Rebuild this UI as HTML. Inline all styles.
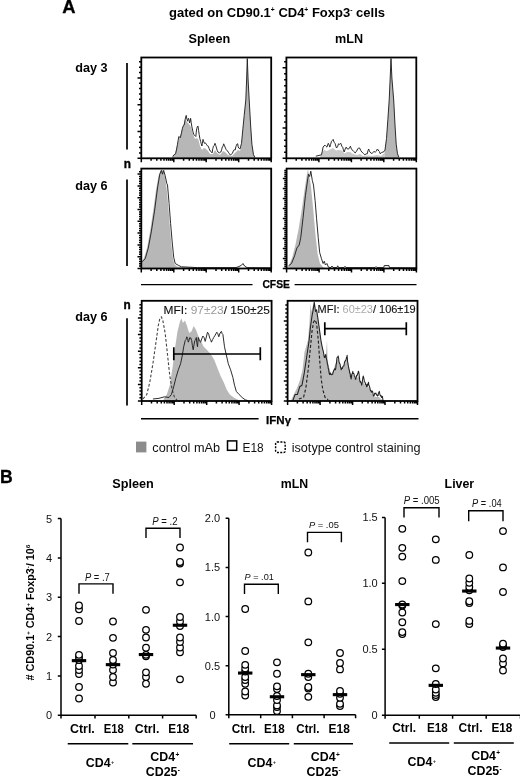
<!DOCTYPE html>
<html><head><meta charset="utf-8"><title>Figure</title>
<style>html,body{margin:0;padding:0;background:#fff}svg{display:block}</style></head>
<body>
<svg width="520" height="777" viewBox="0 0 520 777" font-family='"Liberation Sans", Arial, Helvetica, sans-serif'>
<rect width="520" height="777" fill="#fff"/>
<text x="62.2" y="12.6" font-size="17.6" font-weight="bold" stroke="#000" stroke-width="0.3" textLength="13.3" lengthAdjust="spacingAndGlyphs">A</text>
<text x="169" y="16.7" font-size="12.5" font-weight="bold" textLength="216" lengthAdjust="spacingAndGlyphs">gated on CD90.1<tspan font-size="6.5" dy="-4.6">+</tspan><tspan dy="4.6"> CD4</tspan><tspan font-size="6.5" dy="-4.6">+</tspan><tspan dy="4.6"> Foxp3</tspan><tspan font-size="6.5" dy="-4.6">-</tspan><tspan dy="4.6"> cells</tspan></text>
<text x="188.6" y="43.3" font-size="12.4" font-weight="bold" textLength="41.6" lengthAdjust="spacingAndGlyphs">Spleen</text>
<text x="335" y="43.3" font-size="12.4" font-weight="bold" textLength="28" lengthAdjust="spacingAndGlyphs">mLN</text>
<text x="75.2" y="72.2" font-size="12.4" font-weight="bold" textLength="32.3" lengthAdjust="spacingAndGlyphs">day 3</text>
<text x="75.2" y="190" font-size="12.4" font-weight="bold" textLength="32.3" lengthAdjust="spacingAndGlyphs">day 6</text>
<text x="75.2" y="320.6" font-size="12.4" font-weight="bold" textLength="32.3" lengthAdjust="spacingAndGlyphs">day 6</text>
<text x="123.8" y="167.5" font-size="12" font-weight="bold" stroke="#000" stroke-width="0.35" textLength="7.2" lengthAdjust="spacingAndGlyphs">n</text>
<text x="123.6" y="308.8" font-size="12" font-weight="bold" stroke="#000" stroke-width="0.35" textLength="7.2" lengthAdjust="spacingAndGlyphs">n</text>
<path d="M127 63v86.6M127 179.6v86.4M127 318.2V405.6" stroke="#000" stroke-width="1.7"/>
<polygon points="172.0,158.0 172.0,157.5 175.0,154.0 177.0,146.0 179.0,139.0 181.0,133.0 183.0,126.0 185.2,119.2 187.0,122.0 189.0,124.0 191.0,127.0 193.0,134.0 195.0,139.0 197.0,138.0 198.5,140.0 200.0,146.0 202.0,150.0 204.0,148.0 206.0,149.0 208.0,151.0 210.0,154.0 213.0,154.0 215.0,150.0 217.0,153.0 220.0,155.0 223.0,151.0 225.0,152.0 228.0,155.0 232.0,156.0 235.0,153.0 238.0,150.0 240.0,151.0 241.5,144.0 242.9,129.0 244.2,116.0 245.8,100.0 246.6,80.0 247.3,59.0 248.1,80.0 249.2,100.0 250.6,125.0 251.9,144.2 253.5,154.8 255.0,157.3 255.0,158.0" fill="#b7b7b7"/>
<polyline points="172.7,156.7 174.1,154.7 175.6,153.8 176.6,149.1 177.5,144.2 178.2,140.1 178.8,136.5 179.6,137.2 180.4,137.5 181.4,133.4 182.3,128.8 183.2,126.0 184.2,125.0 185.2,119.2 186.2,115.4 186.9,119.0 187.7,121.2 188.1,119.3 188.5,118.3 189.1,120.1 189.6,123.0 190.1,121.6 190.6,118.3 191.2,122.5 191.9,126.9 192.9,131.4 193.8,134.6 194.8,135.5 195.8,136.5 196.2,132.9 196.7,128.8 197.3,126.7 198.0,126.0 198.6,130.6 199.2,134.6 199.9,138.7 200.6,141.3 201.2,143.7 201.9,146.0 202.4,143.2 203.0,139.4 203.7,141.7 204.4,143.3 205.4,142.9 206.3,144.2 207.3,145.7 208.3,146.2 209.2,148.8 210.2,151.0 211.1,151.6 212.1,152.9 212.8,148.6 213.5,146.2 214.2,145.5 215.0,143.3 215.8,145.6 216.5,148.0 217.2,150.4 217.9,152.0 219.4,152.8 220.8,152.0 221.6,149.9 222.3,147.0 223.0,146.2 223.7,143.8 224.3,145.2 225.0,147.0 226.2,149.6 227.5,151.0 228.4,152.3 229.4,153.8 230.4,155.0 231.3,154.4 232.3,153.5 233.3,151.0 234.2,149.7 235.2,150.0 235.8,146.9 236.5,145.2 237.1,143.9 237.7,143.8 238.2,146.8 238.7,148.0 239.3,148.4 240.0,149.0 241.5,143.3 242.9,128.8 244.2,115.4 245.8,100.0 246.6,80.0 247.3,58.6 248.1,80.0 249.2,100.0 250.6,125.0 251.9,144.2 253.5,154.8 255.0,157.3" fill="none" stroke="#222" stroke-width="0.95" stroke-linejoin="round"/>
<rect x="141.3" y="57.5" width="129.9" height="100.8" fill="none" stroke="#000" stroke-width="1.8"/><path d="M141.3 158.3h-3.8M141.3 152.9h-2.3M141.3 147.6h-2.3M141.3 142.2h-2.3M141.3 136.9h-2.3M141.3 131.5h-3.8M141.3 126.1h-2.3M141.3 120.8h-2.3M141.3 115.4h-2.3M141.3 110.1h-2.3M141.3 104.7h-3.8M141.3 99.3h-2.3M141.3 94.0h-2.3M141.3 88.6h-2.3M141.3 83.3h-2.3M141.3 77.9h-3.8M141.3 72.5h-2.3M141.3 67.2h-2.3M141.3 61.8h-2.3M141.3 158.3v3.9M151.1 158.3v2.4M156.8 158.3v2.4M160.9 158.3v2.4M164.0 158.3v2.4M166.6 158.3v2.4M168.7 158.3v2.4M170.6 158.3v2.4M172.3 158.3v2.4M173.8 158.3v3.9M183.6 158.3v2.4M189.3 158.3v2.4M193.3 158.3v2.4M196.5 158.3v2.4M199.0 158.3v2.4M201.2 158.3v2.4M203.1 158.3v2.4M204.8 158.3v2.4M206.2 158.3v3.9M216.0 158.3v2.4M221.7 158.3v2.4M225.8 158.3v2.4M228.9 158.3v2.4M231.5 158.3v2.4M233.7 158.3v2.4M235.6 158.3v2.4M237.2 158.3v2.4M238.7 158.3v3.9M248.5 158.3v2.4M254.2 158.3v2.4M258.3 158.3v2.4M261.4 158.3v2.4M264.0 158.3v2.4M266.2 158.3v2.4M268.1 158.3v2.4M269.7 158.3v2.4M271.2 158.3v3.9" stroke="#000" stroke-width="1.5" fill="none"/>
<polygon points="320.0,158.0 320.0,157.0 322.0,152.0 324.0,150.0 327.0,151.0 330.0,149.5 333.0,148.0 336.0,150.5 339.0,150.0 342.0,150.5 344.5,153.5 347.0,152.0 350.0,152.0 353.0,154.0 357.0,155.0 360.0,154.0 363.0,156.0 368.0,155.5 372.0,156.0 377.0,155.0 381.0,156.0 384.5,153.0 384.5,158.0" fill="#c8c8c8"/>
<polygon points="384.5,158.0 384.5,153.0 385.5,146.0 386.5,138.5 387.9,119.2 389.2,100.0 390.2,78.0 391.0,58.5 391.9,78.0 393.7,100.0 395.0,125.0 396.2,144.2 397.5,153.8 398.8,157.0 398.8,158.0" fill="#b6b6b6"/>
<polyline points="315.8,156.2 321.5,154.8 322.3,151.2 323.1,147.1 324.1,145.8 325.0,145.2 325.9,146.2 326.9,147.1 327.6,145.0 328.3,143.3 329.1,144.9 329.8,147.1 330.6,144.4 331.5,141.3 332.3,140.5 333.1,139.4 334.1,142.2 335.0,143.3 335.8,146.0 336.5,148.0 337.5,146.8 338.5,143.8 339.6,144.3 340.8,143.3 341.8,146.2 342.7,147.1 343.4,149.9 344.2,152.0 345.2,148.9 346.2,147.1 347.1,148.8 348.1,149.0 349.2,148.5 350.4,146.2 351.4,148.9 352.3,150.0 353.8,151.6 355.2,152.9 356.4,151.4 357.7,149.0 358.6,147.9 359.6,148.0 360.8,150.7 361.9,152.0 363.4,153.5 364.8,154.8 366.1,153.9 367.3,153.8 368.0,150.5 368.7,149.0 369.4,151.2 370.0,152.0 371.2,153.4 372.5,152.9 373.9,151.6 375.4,152.0 376.4,151.1 377.3,149.0 378.1,149.8 378.8,151.0 379.5,151.7 380.2,153.8 381.6,152.5 383.1,152.0 384.1,151.5 385.0,150.0 386.5,138.5 387.9,119.2 389.2,100.0 390.2,78.0 391.0,58.5 391.9,78.0 393.7,100.0 395.0,125.0 396.2,144.2 397.5,153.8 398.8,157.0" fill="none" stroke="#222" stroke-width="0.95" stroke-linejoin="round"/>
<rect x="286.4" y="57.5" width="129.9" height="100.8" fill="none" stroke="#000" stroke-width="1.8"/><path d="M286.4 158.3h-3.8M286.4 152.3h-2.3M286.4 146.2h-2.3M286.4 140.2h-2.3M286.4 134.1h-2.3M286.4 128.1h-3.8M286.4 122.1h-2.3M286.4 116.0h-2.3M286.4 110.0h-2.3M286.4 103.9h-2.3M286.4 97.9h-3.8M286.4 91.9h-2.3M286.4 85.8h-2.3M286.4 79.8h-2.3M286.4 73.7h-2.3M286.4 67.7h-3.8M286.4 61.7h-2.3M286.4 158.3v3.9M296.2 158.3v2.4M301.9 158.3v2.4M306.0 158.3v2.4M309.1 158.3v2.4M311.7 158.3v2.4M313.8 158.3v2.4M315.7 158.3v2.4M317.4 158.3v2.4M318.9 158.3v3.9M328.7 158.3v2.4M334.4 158.3v2.4M338.4 158.3v2.4M341.6 158.3v2.4M344.1 158.3v2.4M346.3 158.3v2.4M348.2 158.3v2.4M349.9 158.3v2.4M351.4 158.3v3.9M361.1 158.3v2.4M366.8 158.3v2.4M370.9 158.3v2.4M374.0 158.3v2.4M376.6 158.3v2.4M378.8 158.3v2.4M380.7 158.3v2.4M382.3 158.3v2.4M383.8 158.3v3.9M393.6 158.3v2.4M399.3 158.3v2.4M403.4 158.3v2.4M406.5 158.3v2.4M409.1 158.3v2.4M411.3 158.3v2.4M413.2 158.3v2.4M414.8 158.3v2.4M416.3 158.3v3.9" stroke="#000" stroke-width="1.5" fill="none"/>
<polygon points="141.8,268.3 141.8,262.5 144.0,258.0 147.0,248.0 150.0,232.0 153.0,212.0 156.0,190.0 158.5,176.0 160.5,170.5 162.3,169.5 164.0,173.0 165.5,180.0 167.0,192.0 168.6,210.0 170.0,228.0 171.5,246.0 173.0,259.0 174.5,264.5 177.0,266.5 181.0,267.3 197.0,268.0 197.0,268.3" fill="#b7b7b7"/>
<polyline points="141.8,261.9 145.2,258.8 148.3,248.0 151.4,231.2 154.5,211.2 157.5,188.0 159.8,174.2 161.4,170.4 162.5,174.2 163.7,170.4 165.2,175.8 166.8,183.5 167.5,185.0 169.1,203.5 170.6,223.5 172.2,242.0 173.7,257.3 175.2,263.5 178.3,265.3 181.4,266.8 197.5,267.6 236.0,267.6 239.0,266.5 241.5,265.2 243.0,263.5 244.5,266.0 247.0,267.6 271.0,267.8" fill="none" stroke="#222" stroke-width="0.95" stroke-linejoin="round"/>
<rect x="141.3" y="168.6" width="129.9" height="99.9" fill="none" stroke="#000" stroke-width="1.8"/><path d="M141.3 268.5h-3.8M141.3 266.1h-2.3M141.3 263.8h-2.3M141.3 261.4h-2.3M141.3 259.1h-2.3M141.3 256.7h-3.8M141.3 254.3h-2.3M141.3 252.0h-2.3M141.3 249.6h-2.3M141.3 247.3h-2.3M141.3 244.9h-3.8M141.3 242.5h-2.3M141.3 240.2h-2.3M141.3 237.8h-2.3M141.3 235.5h-2.3M141.3 233.1h-3.8M141.3 230.7h-2.3M141.3 228.4h-2.3M141.3 226.0h-2.3M141.3 223.7h-2.3M141.3 221.3h-3.8M141.3 218.9h-2.3M141.3 216.6h-2.3M141.3 214.2h-2.3M141.3 211.9h-2.3M141.3 209.5h-3.8M141.3 207.1h-2.3M141.3 204.8h-2.3M141.3 202.4h-2.3M141.3 200.1h-2.3M141.3 197.7h-3.8M141.3 195.3h-2.3M141.3 193.0h-2.3M141.3 190.6h-2.3M141.3 188.3h-2.3M141.3 185.9h-3.8M141.3 183.5h-2.3M141.3 181.2h-2.3M141.3 178.8h-2.3M141.3 176.5h-2.3M141.3 174.1h-3.8M141.3 171.7h-2.3M141.3 268.5v3.9M151.1 268.5v2.4M156.8 268.5v2.4M160.9 268.5v2.4M164.0 268.5v2.4M166.6 268.5v2.4M168.7 268.5v2.4M170.6 268.5v2.4M172.3 268.5v2.4M173.8 268.5v3.9M183.6 268.5v2.4M189.3 268.5v2.4M193.3 268.5v2.4M196.5 268.5v2.4M199.0 268.5v2.4M201.2 268.5v2.4M203.1 268.5v2.4M204.8 268.5v2.4M206.2 268.5v3.9M216.0 268.5v2.4M221.7 268.5v2.4M225.8 268.5v2.4M228.9 268.5v2.4M231.5 268.5v2.4M233.7 268.5v2.4M235.6 268.5v2.4M237.2 268.5v2.4M238.7 268.5v3.9M248.5 268.5v2.4M254.2 268.5v2.4M258.3 268.5v2.4M261.4 268.5v2.4M264.0 268.5v2.4M266.2 268.5v2.4M268.1 268.5v2.4M269.7 268.5v2.4M271.2 268.5v3.9" stroke="#000" stroke-width="1.5" fill="none"/>
<polygon points="288.5,268.3 288.5,266.5 292.3,257.3 295.4,245.0 298.5,229.6 301.5,211.2 304.6,189.6 306.9,174.2 308.0,169.6 309.2,175.8 310.8,185.0 313.1,208.0 315.4,234.2 317.7,254.2 320.0,263.5 323.1,267.3 326.0,268.0 326.0,268.3" fill="#b7b7b7"/>
<polyline points="288.5,265.8 291.5,263.5 294.6,255.8 296.9,248.0 299.2,245.0 300.8,237.3 303.1,217.3 305.4,195.8 306.9,185.0 308.5,174.2 309.7,176.5 310.8,171.2 312.3,180.4 313.5,185.0 315.1,200.4 316.6,218.8 318.2,237.3 319.7,252.7 321.5,258.8 323.1,263.5 324.3,261.2 325.4,265.0 326.9,263.5 328.5,267.3 331.0,267.6 332.0,266.0 333.0,267.6 337.0,267.6 337.7,265.8 338.6,267.6 344.0,267.6 345.0,266.3 346.0,267.6 375.0,267.6 376.0,266.6 377.0,267.6 383.8,267.6 384.2,265.6 389.0,265.6 389.4,267.6 416.0,267.8" fill="none" stroke="#222" stroke-width="0.95" stroke-linejoin="round"/>
<rect x="286.6" y="168.6" width="129.8" height="99.9" fill="none" stroke="#000" stroke-width="1.8"/><path d="M286.6 268.5h-3.8M286.6 266.5h-2.3M286.6 264.5h-2.3M286.6 262.5h-2.3M286.6 260.5h-2.3M286.6 258.5h-3.8M286.6 256.5h-2.3M286.6 254.5h-2.3M286.6 252.5h-2.3M286.6 250.5h-2.3M286.6 248.5h-3.8M286.6 246.5h-2.3M286.6 244.5h-2.3M286.6 242.5h-2.3M286.6 240.5h-2.3M286.6 238.5h-3.8M286.6 236.5h-2.3M286.6 234.5h-2.3M286.6 232.5h-2.3M286.6 230.5h-2.3M286.6 228.5h-3.8M286.6 226.5h-2.3M286.6 224.5h-2.3M286.6 222.5h-2.3M286.6 220.5h-2.3M286.6 218.5h-3.8M286.6 216.5h-2.3M286.6 214.5h-2.3M286.6 212.5h-2.3M286.6 210.5h-2.3M286.6 208.5h-3.8M286.6 206.5h-2.3M286.6 204.5h-2.3M286.6 202.5h-2.3M286.6 200.5h-2.3M286.6 198.5h-3.8M286.6 196.5h-2.3M286.6 194.5h-2.3M286.6 192.5h-2.3M286.6 190.5h-2.3M286.6 188.5h-3.8M286.6 186.5h-2.3M286.6 184.5h-2.3M286.6 182.5h-2.3M286.6 180.5h-2.3M286.6 178.5h-3.8M286.6 176.5h-2.3M286.6 174.5h-2.3M286.6 172.5h-2.3M286.6 170.5h-2.3M286.6 268.5v3.9M296.4 268.5v2.4M302.1 268.5v2.4M306.1 268.5v2.4M309.3 268.5v2.4M311.9 268.5v2.4M314.0 268.5v2.4M315.9 268.5v2.4M317.6 268.5v2.4M319.1 268.5v3.9M328.8 268.5v2.4M334.5 268.5v2.4M338.6 268.5v2.4M341.7 268.5v2.4M344.3 268.5v2.4M346.5 268.5v2.4M348.4 268.5v2.4M350.0 268.5v2.4M351.5 268.5v3.9M361.3 268.5v2.4M367.0 268.5v2.4M371.0 268.5v2.4M374.2 268.5v2.4M376.8 268.5v2.4M378.9 268.5v2.4M380.8 268.5v2.4M382.5 268.5v2.4M383.9 268.5v3.9M393.7 268.5v2.4M399.4 268.5v2.4M403.5 268.5v2.4M406.6 268.5v2.4M409.2 268.5v2.4M411.4 268.5v2.4M413.3 268.5v2.4M414.9 268.5v2.4M416.4 268.5v3.9" stroke="#000" stroke-width="1.5" fill="none"/>
<path d="M141 284.6H252.5M294.6 284.6H416.5" stroke="#000" stroke-width="1.4"/>
<text x="276.2" y="288.3" font-size="11.3" font-weight="bold" stroke="#000" stroke-width="0.25" text-anchor="middle" textLength="27.6" lengthAdjust="spacingAndGlyphs">CFSE</text>
<polygon points="163.7,401.0 163.7,399.0 166.8,394.5 169.8,385.2 172.9,365.2 175.2,346.8 177.5,331.4 179.8,322.2 181.4,318.3 182.9,323.0 184.9,320.6 186.8,325.2 189.1,333.0 191.4,331.4 193.7,326.0 196.0,329.8 198.3,336.0 200.6,340.6 203.7,346.8 206.8,349.8 209.8,352.9 212.9,357.5 214.5,360.6 217.5,368.3 220.6,376.0 223.7,382.2 226.8,389.8 229.8,394.5 233.7,397.5 237.5,399.4 240.0,400.5 240.0,401.0" fill="#b8b8b8"/>
<polyline points="142.9,399.0 146.8,394.5 149.8,382.2 152.9,363.7 156.0,342.2 158.3,325.5 159.8,318.8 161.4,316.8 162.9,320.8 165.2,333.5 167.5,354.5 169.8,376.0 172.2,389.8 174.5,397.5 177.0,400.0" fill="none" stroke="#444" stroke-width="1.1" stroke-linejoin="round" stroke-dasharray="2.8 1.9"/>
<polyline points="152.9,399.0 159.0,398.3 164.5,396.8 169.0,397.5 171.4,394.5 173.7,386.8 176.0,377.5 178.3,369.8 180.6,363.7 182.2,356.0 183.7,346.8 185.2,340.6 186.0,339.6 186.8,336.8 187.6,338.4 188.3,342.2 189.1,340.1 189.8,337.5 190.8,338.0 191.7,340.6 192.4,345.7 193.2,349.8 194.0,344.8 194.8,340.6 195.6,340.0 196.3,337.5 196.9,343.3 197.5,346.8 197.9,342.2 198.3,337.5 199.4,341.0 200.6,342.2 201.8,338.6 202.9,336.0 204.1,337.7 205.2,341.4 206.3,337.0 207.5,332.2 208.7,334.1 209.8,338.3 210.6,339.5 211.4,342.2 212.6,339.6 213.7,337.5 215.2,335.1 216.8,332.2 217.8,333.7 218.8,336.8 220.1,333.0 221.4,331.4 222.2,333.8 222.9,334.5 224.5,346.8 226.0,353.7 228.3,363.7 230.6,369.8 232.9,377.5 234.5,385.2 236.3,391.4 239.1,394.5 242.2,397.5 245.2,399.8 248.0,400.6" fill="none" stroke="#222" stroke-width="0.95" stroke-linejoin="round"/>
<rect x="141.7" y="300.8" width="129.9" height="100.2" fill="none" stroke="#000" stroke-width="1.8"/><path d="M141.7 401.0h-3.8M141.7 397.7h-2.3M141.7 394.4h-2.3M141.7 391.0h-2.3M141.7 387.7h-2.3M141.7 384.4h-3.8M141.7 381.1h-2.3M141.7 377.8h-2.3M141.7 374.4h-2.3M141.7 371.1h-2.3M141.7 367.8h-3.8M141.7 364.5h-2.3M141.7 361.2h-2.3M141.7 357.8h-2.3M141.7 354.5h-2.3M141.7 351.2h-3.8M141.7 347.9h-2.3M141.7 344.6h-2.3M141.7 341.2h-2.3M141.7 337.9h-2.3M141.7 334.6h-3.8M141.7 331.3h-2.3M141.7 328.0h-2.3M141.7 324.6h-2.3M141.7 321.3h-2.3M141.7 318.0h-3.8M141.7 314.7h-2.3M141.7 311.4h-2.3M141.7 308.0h-2.3M141.7 304.7h-2.3M141.7 401.0v3.9M151.5 401.0v2.4M157.2 401.0v2.4M161.3 401.0v2.4M164.4 401.0v2.4M167.0 401.0v2.4M169.1 401.0v2.4M171.0 401.0v2.4M172.7 401.0v2.4M174.2 401.0v3.9M184.0 401.0v2.4M189.7 401.0v2.4M193.7 401.0v2.4M196.9 401.0v2.4M199.4 401.0v2.4M201.6 401.0v2.4M203.5 401.0v2.4M205.2 401.0v2.4M206.7 401.0v3.9M216.4 401.0v2.4M222.1 401.0v2.4M226.2 401.0v2.4M229.3 401.0v2.4M231.9 401.0v2.4M234.1 401.0v2.4M236.0 401.0v2.4M237.6 401.0v2.4M239.1 401.0v3.9M248.9 401.0v2.4M254.6 401.0v2.4M258.7 401.0v2.4M261.8 401.0v2.4M264.4 401.0v2.4M266.6 401.0v2.4M268.5 401.0v2.4M270.1 401.0v2.4M271.6 401.0v3.9" stroke="#000" stroke-width="1.5" fill="none"/>
<path d="M173.8 354H260.3M173.8 347.3v13M260.3 347.3v13" stroke="#000" stroke-width="1.7" fill="none"/>
<text x="163.6" y="314" font-size="10.2" fill="#111" stroke="#111" stroke-width="0.12" textLength="106.3" lengthAdjust="spacingAndGlyphs">MFI: <tspan fill="#999" stroke="none">97±23</tspan>/ 150±25</text>
<polygon points="291.0,401.0 291.0,400.6 294.0,394.0 297.0,388.0 300.0,380.0 302.5,370.0 304.5,352.0 306.0,347.0 308.0,340.0 309.5,322.0 310.5,302.5 311.2,312.0 312.5,307.0 314.0,302.5 315.5,310.0 317.0,312.0 318.5,322.0 320.0,333.0 321.5,343.0 323.0,351.0 324.5,356.0 326.0,354.0 327.0,340.0 327.6,360.0 329.0,367.0 331.0,374.0 333.0,371.0 335.0,365.0 337.0,359.0 338.5,360.0 340.0,365.0 342.0,368.0 344.0,365.0 346.0,361.0 347.5,360.0 349.0,367.0 351.0,375.0 353.0,374.0 355.0,379.0 357.0,378.0 359.0,376.0 361.0,384.0 363.0,381.0 365.0,385.0 367.0,388.0 369.0,387.0 371.0,392.0 373.0,396.0 376.0,397.0 379.0,397.0 381.0,399.0 383.5,400.6 383.5,401.0" fill="#b9b9b9"/>
<polyline points="292.8,400.6 295.1,394.5 297.4,394.5 299.7,386.8 302.0,385.2 304.3,372.9 306.6,357.5 308.9,342.2 310.5,326.8 312.0,316.0 313.2,309.8 314.3,302.2 315.5,311.4 316.6,309.8 318.2,320.6 319.7,331.4 321.2,342.2 322.8,349.8 323.2,350.9 323.6,353.1 323.9,354.9 324.3,357.5 324.7,356.8 325.1,357.3 325.4,355.5 325.8,354.5 326.4,358.7 326.9,360.6 327.2,362.7 327.5,364.1 327.9,365.6 328.2,368.3 328.6,369.4 328.9,371.3 329.3,373.8 329.7,374.5 330.3,373.0 330.9,374.6 331.4,374.7 332.0,374.5 332.6,374.3 333.1,372.6 333.7,370.6 334.3,369.8 334.7,368.7 335.1,369.3 335.4,369.8 335.8,368.3 336.1,364.8 336.5,363.1 336.8,359.3 337.1,357.5 337.6,357.1 338.2,356.0 338.6,358.3 338.9,361.1 339.3,363.0 339.7,363.7 340.1,364.0 340.4,366.8 340.8,367.7 341.2,369.8 341.6,368.4 342.0,368.1 342.4,368.5 342.8,366.8 343.2,366.1 343.6,365.9 343.9,365.9 344.3,363.7 344.7,361.5 345.1,361.4 345.4,360.5 345.8,360.6 346.1,359.5 346.5,357.3 346.8,357.5 347.1,355.2 347.6,361.5 348.2,365.2 348.6,367.0 348.9,369.1 349.3,370.1 349.7,372.9 350.1,373.3 350.4,376.1 350.8,377.6 351.2,379.0 351.6,375.4 352.0,373.8 352.4,373.6 352.8,371.4 353.2,373.5 353.6,373.5 353.9,373.7 354.3,376.0 354.7,376.2 355.1,377.7 355.4,379.3 355.8,379.0 356.2,377.7 356.6,375.4 357.0,375.9 357.4,374.5 357.7,373.4 358.0,373.3 358.3,371.2 358.6,371.4 359.0,373.6 359.4,377.2 359.8,380.6 360.2,382.2 360.6,381.6 360.9,382.5 361.3,383.3 361.7,385.2 362.1,382.8 362.4,381.0 362.8,378.2 363.2,376.0 363.6,377.2 364.0,379.0 364.4,381.9 364.8,382.2 365.2,382.5 365.7,385.0 366.2,384.3 366.6,386.8 367.1,386.9 367.6,384.1 368.0,384.4 368.5,382.2 368.9,385.6 369.2,385.8 369.6,386.9 370.0,388.3 370.5,390.8 371.0,390.5 371.5,392.3 372.0,391.4 372.4,391.0 372.8,392.4 373.1,395.0 373.5,396.0 374.1,395.7 374.6,393.3 375.2,393.7 375.8,393.0 376.2,394.1 376.6,395.0 377.0,394.8 377.4,396.0 377.8,395.2 378.1,395.4 378.5,392.9 378.9,392.2 379.3,391.4 379.7,393.4 380.1,395.0 380.5,396.0 380.9,395.5 381.2,396.3 381.6,397.5 382.0,396.8 382.4,396.4 382.8,399.0 383.1,401.1 383.5,400.6" fill="none" stroke="#222" stroke-width="1.05" stroke-linejoin="round"/>
<polyline points="298.9,399.0 303.5,397.5 305.8,388.3 308.2,369.8 310.5,346.8 312.0,331.4 313.5,322.2 315.1,319.8 316.6,323.7 318.2,339.0 319.7,360.6 321.2,379.0 322.8,389.8 325.1,397.5 328.2,399.8" fill="none" stroke="#222" stroke-width="1.15" stroke-linejoin="round" stroke-dasharray="3 2"/>
<rect x="287.6" y="300.8" width="129.9" height="100.2" fill="none" stroke="#000" stroke-width="1.8"/><path d="M287.6 401.0h-3.8M287.6 397.0h-2.3M287.6 393.0h-2.3M287.6 389.0h-2.3M287.6 385.0h-2.3M287.6 381.0h-3.8M287.6 377.0h-2.3M287.6 373.0h-2.3M287.6 369.0h-2.3M287.6 365.0h-2.3M287.6 361.0h-3.8M287.6 357.0h-2.3M287.6 353.0h-2.3M287.6 349.0h-2.3M287.6 345.0h-2.3M287.6 341.0h-3.8M287.6 337.0h-2.3M287.6 333.0h-2.3M287.6 329.0h-2.3M287.6 325.0h-2.3M287.6 321.0h-3.8M287.6 317.0h-2.3M287.6 313.0h-2.3M287.6 309.0h-2.3M287.6 305.0h-2.3M287.6 401.0v3.9M297.4 401.0v2.4M303.1 401.0v2.4M307.2 401.0v2.4M310.3 401.0v2.4M312.9 401.0v2.4M315.0 401.0v2.4M316.9 401.0v2.4M318.6 401.0v2.4M320.1 401.0v3.9M329.9 401.0v2.4M335.6 401.0v2.4M339.6 401.0v2.4M342.8 401.0v2.4M345.3 401.0v2.4M347.5 401.0v2.4M349.4 401.0v2.4M351.1 401.0v2.4M352.6 401.0v3.9M362.3 401.0v2.4M368.0 401.0v2.4M372.1 401.0v2.4M375.2 401.0v2.4M377.8 401.0v2.4M380.0 401.0v2.4M381.9 401.0v2.4M383.5 401.0v2.4M385.0 401.0v3.9M394.8 401.0v2.4M400.5 401.0v2.4M404.6 401.0v2.4M407.7 401.0v2.4M410.3 401.0v2.4M412.5 401.0v2.4M414.4 401.0v2.4M416.0 401.0v2.4M417.5 401.0v3.9" stroke="#000" stroke-width="1.5" fill="none"/>
<path d="M324.8 328.6H406.3M324.8 322.2v13M406.3 322.2v13" stroke="#000" stroke-width="1.7" fill="none"/>
<text x="317.6" y="313.2" font-size="10.2" fill="#111" stroke="#111" stroke-width="0.12" textLength="98" lengthAdjust="spacingAndGlyphs">MFI: <tspan fill="#aaa" stroke="none">60±23</tspan>/ 106±19</text>
<path d="M141 418.8H258.6M298.4 418.8H418.5" stroke="#000" stroke-width="1.4"/>
<text x="278.6" y="423.5" font-size="11.3" font-weight="bold" stroke="#000" stroke-width="0.25" text-anchor="middle" textLength="25" lengthAdjust="spacingAndGlyphs">IFNγ</text>
<rect x="136" y="441.6" width="10.4" height="10.8" fill="#8c8c8c"/>
<text x="152.3" y="451.7" font-size="12" fill="#111" textLength="67.7" lengthAdjust="spacingAndGlyphs">control mAb</text>
<rect x="227.5" y="440.9" width="9.2" height="9.4" fill="#fff" stroke="#000" stroke-width="1.5"/>
<text x="242.5" y="451.7" font-size="12" fill="#111" textLength="21.2" lengthAdjust="spacingAndGlyphs">E18</text>
<rect x="275.6" y="442" width="9.6" height="10.5" rx="1.5" fill="#fff" stroke="#000" stroke-width="1.4" stroke-dasharray="2 1.3"/>
<text x="291.7" y="451.7" font-size="12" fill="#111" textLength="128.8" lengthAdjust="spacingAndGlyphs">isotype control staining</text>
<text x="0" y="482.9" font-size="17.6" font-weight="bold" stroke="#000" stroke-width="0.3">B</text>
<text x="112.3" y="487.8" font-size="12.7" font-weight="bold" textLength="41.5" lengthAdjust="spacingAndGlyphs">Spleen</text>
<path d="M61.0 518.6V715.2H196.2M61.0 518.6h-3.2M61.0 557.9h-3.2M61.0 597.2h-3.2M61.0 636.6h-3.2M61.0 675.9h-3.2M61.0 715.2h-3.2M61.0 715.2v3.4M95.0 715.2v3.4M128.8 715.2v3.4M162.6 715.2v3.4M196.2 715.2v3.4" stroke="#000" stroke-width="1.5" fill="none"/>
<text x="52.0" y="522.5" font-size="11" fill="#111" text-anchor="end">5</text>
<text x="52.0" y="561.8" font-size="11" fill="#111" text-anchor="end">4</text>
<text x="52.0" y="601.1" font-size="11" fill="#111" text-anchor="end">3</text>
<text x="52.0" y="640.5" font-size="11" fill="#111" text-anchor="end">2</text>
<text x="52.0" y="679.8" font-size="11" fill="#111" text-anchor="end">1</text>
<text x="52.0" y="719.1" font-size="11" fill="#111" text-anchor="end">0</text>
<circle cx="79.0" cy="698.5" r="3.3" fill="#fff" stroke="#000" stroke-width="1.25"/>
<circle cx="79.0" cy="687.0" r="3.3" fill="#fff" stroke="#000" stroke-width="1.25"/>
<circle cx="79.0" cy="674.0" r="3.3" fill="#fff" stroke="#000" stroke-width="1.25"/>
<circle cx="79.0" cy="670.0" r="3.3" fill="#fff" stroke="#000" stroke-width="1.25"/>
<circle cx="79.0" cy="666.0" r="3.3" fill="#fff" stroke="#000" stroke-width="1.25"/>
<circle cx="79.0" cy="660.0" r="3.3" fill="#fff" stroke="#000" stroke-width="1.25"/>
<circle cx="79.0" cy="657.0" r="3.3" fill="#fff" stroke="#000" stroke-width="1.25"/>
<circle cx="79.0" cy="654.8" r="3.3" fill="#fff" stroke="#000" stroke-width="1.25"/>
<circle cx="79.0" cy="621.0" r="3.3" fill="#fff" stroke="#000" stroke-width="1.25"/>
<circle cx="79.0" cy="609.2" r="3.3" fill="#fff" stroke="#000" stroke-width="1.25"/>
<circle cx="79.0" cy="605.5" r="3.3" fill="#fff" stroke="#000" stroke-width="1.25"/>
<circle cx="113.0" cy="682.5" r="3.3" fill="#fff" stroke="#000" stroke-width="1.25"/>
<circle cx="113.0" cy="677.0" r="3.3" fill="#fff" stroke="#000" stroke-width="1.25"/>
<circle cx="113.0" cy="670.0" r="3.3" fill="#fff" stroke="#000" stroke-width="1.25"/>
<circle cx="113.0" cy="664.6" r="3.3" fill="#fff" stroke="#000" stroke-width="1.25"/>
<circle cx="113.0" cy="660.0" r="3.3" fill="#fff" stroke="#000" stroke-width="1.25"/>
<circle cx="113.0" cy="653.0" r="3.3" fill="#fff" stroke="#000" stroke-width="1.25"/>
<circle cx="113.0" cy="637.8" r="3.3" fill="#fff" stroke="#000" stroke-width="1.25"/>
<circle cx="113.0" cy="621.5" r="3.3" fill="#fff" stroke="#000" stroke-width="1.25"/>
<circle cx="146.0" cy="683.7" r="3.3" fill="#fff" stroke="#000" stroke-width="1.25"/>
<circle cx="146.0" cy="677.0" r="3.3" fill="#fff" stroke="#000" stroke-width="1.25"/>
<circle cx="146.0" cy="672.3" r="3.3" fill="#fff" stroke="#000" stroke-width="1.25"/>
<circle cx="146.0" cy="656.3" r="3.3" fill="#fff" stroke="#000" stroke-width="1.25"/>
<circle cx="146.0" cy="654.8" r="3.3" fill="#fff" stroke="#000" stroke-width="1.25"/>
<circle cx="146.0" cy="647.7" r="3.3" fill="#fff" stroke="#000" stroke-width="1.25"/>
<circle cx="146.0" cy="637.5" r="3.3" fill="#fff" stroke="#000" stroke-width="1.25"/>
<circle cx="146.0" cy="629.8" r="3.3" fill="#fff" stroke="#000" stroke-width="1.25"/>
<circle cx="146.0" cy="609.8" r="3.3" fill="#fff" stroke="#000" stroke-width="1.25"/>
<circle cx="180.0" cy="679.3" r="3.3" fill="#fff" stroke="#000" stroke-width="1.25"/>
<circle cx="180.0" cy="652.2" r="3.3" fill="#fff" stroke="#000" stroke-width="1.25"/>
<circle cx="180.0" cy="647.5" r="3.3" fill="#fff" stroke="#000" stroke-width="1.25"/>
<circle cx="180.0" cy="642.0" r="3.3" fill="#fff" stroke="#000" stroke-width="1.25"/>
<circle cx="180.0" cy="637.5" r="3.3" fill="#fff" stroke="#000" stroke-width="1.25"/>
<circle cx="180.0" cy="626.0" r="3.3" fill="#fff" stroke="#000" stroke-width="1.25"/>
<circle cx="180.0" cy="621.5" r="3.3" fill="#fff" stroke="#000" stroke-width="1.25"/>
<circle cx="180.0" cy="617.0" r="3.3" fill="#fff" stroke="#000" stroke-width="1.25"/>
<circle cx="180.0" cy="582.3" r="3.3" fill="#fff" stroke="#000" stroke-width="1.25"/>
<circle cx="180.0" cy="563.5" r="3.3" fill="#fff" stroke="#000" stroke-width="1.25"/>
<circle cx="180.0" cy="562.0" r="3.3" fill="#fff" stroke="#000" stroke-width="1.25"/>
<circle cx="180.0" cy="547.5" r="3.3" fill="#fff" stroke="#000" stroke-width="1.25"/>
<rect x="71.8" y="659.1" width="14.4" height="3.1" fill="#000"/>
<rect x="105.8" y="663.1" width="14.4" height="3.1" fill="#000"/>
<rect x="138.8" y="653.0" width="14.4" height="3.1" fill="#000"/>
<rect x="172.8" y="623.7" width="14.4" height="3.1" fill="#000"/>
<path d="M79.0 593.8V583.9H113.0V593.8" stroke="#000" stroke-width="1.4" fill="none"/>
<text x="85.0" y="580.5" font-size="10.2" fill="#111" textLength="24.8" lengthAdjust="spacingAndGlyphs"><tspan font-style="italic">P</tspan> = .7</text>
<path d="M146.0 538.0V528.2H180.0V538.0" stroke="#000" stroke-width="1.4" fill="none"/>
<text x="152.3" y="524.8" font-size="10.2" fill="#111" textLength="25.3" lengthAdjust="spacingAndGlyphs"><tspan font-style="italic">P</tspan> = .2</text>
<text x="70.0" y="733.2" font-size="12.4" font-weight="bold" textLength="24.8" lengthAdjust="spacingAndGlyphs">Ctrl.</text>
<text x="103.7" y="733.2" font-size="12.4" font-weight="bold" textLength="20.0" lengthAdjust="spacingAndGlyphs">E18</text>
<text x="134.8" y="733.2" font-size="12.4" font-weight="bold" textLength="24.6" lengthAdjust="spacingAndGlyphs">Ctrl.</text>
<text x="168.3" y="733.2" font-size="12.4" font-weight="bold" textLength="20.9" lengthAdjust="spacingAndGlyphs">E18</text>
<path d="M67.7 743.8H128.3M132.3 743.8H193.0" stroke="#000" stroke-width="1.4"/>
<text x="85.8" y="766.6" font-size="12.4" font-weight="bold">CD4<tspan font-size="5.5" dy="-2.6" dx="0.5" fill="#333">+</tspan></text>
<text x="150.3" y="761.2" font-size="12.4" font-weight="bold">CD4<tspan font-size="6.5" dy="-4.6" dx="0.3">+</tspan></text>
<text x="145.8" y="776.4" font-size="12.4" font-weight="bold">CD25<tspan font-size="6.5" dy="-4.6" dx="0.3">-</tspan></text>
<text transform="translate(34.2,680.5) rotate(-90)" font-size="10" font-weight="bold" textLength="136" lengthAdjust="spacingAndGlyphs"># CD90.1<tspan font-size="5.6" dy="-3.8">+</tspan><tspan dy="3.8"> CD4</tspan><tspan font-size="5.6" dy="-3.8">+</tspan><tspan dy="3.8"> Foxp3</tspan><tspan font-size="5.6" dy="-3.8">-</tspan><tspan dy="3.8">/ 10</tspan><tspan font-size="6" dy="-3.8">6</tspan></text>
<text x="280.8" y="488.0" font-size="12.7" font-weight="bold" textLength="27.4" lengthAdjust="spacingAndGlyphs">mLN</text>
<path d="M228.8 518.3V714.8H355.6M228.8 518.3h-3.2M228.8 567.4h-3.2M228.8 616.6h-3.2M228.8 665.7h-3.2M228.8 714.8h-3.2M228.8 714.8v3.4M260.7 714.8v3.4M292.4 714.8v3.4M324.1 714.8v3.4M355.6 714.8v3.4" stroke="#000" stroke-width="1.5" fill="none"/>
<text x="220.1" y="522.2" font-size="11" fill="#111" text-anchor="end">2.0</text>
<text x="220.1" y="571.3" font-size="11" fill="#111" text-anchor="end">1.5</text>
<text x="220.1" y="620.5" font-size="11" fill="#111" text-anchor="end">1.0</text>
<text x="220.1" y="669.6" font-size="11" fill="#111" text-anchor="end">0.5</text>
<text x="215.7" y="718.7" font-size="11" fill="#111" text-anchor="end">0</text>
<circle cx="245.2" cy="695.5" r="3.3" fill="#fff" stroke="#000" stroke-width="1.25"/>
<circle cx="245.2" cy="691.5" r="3.3" fill="#fff" stroke="#000" stroke-width="1.25"/>
<circle cx="245.2" cy="683.8" r="3.3" fill="#fff" stroke="#000" stroke-width="1.25"/>
<circle cx="245.2" cy="680.0" r="3.3" fill="#fff" stroke="#000" stroke-width="1.25"/>
<circle cx="245.2" cy="677.0" r="3.3" fill="#fff" stroke="#000" stroke-width="1.25"/>
<circle cx="245.2" cy="671.5" r="3.3" fill="#fff" stroke="#000" stroke-width="1.25"/>
<circle cx="245.2" cy="668.5" r="3.3" fill="#fff" stroke="#000" stroke-width="1.25"/>
<circle cx="245.2" cy="664.8" r="3.3" fill="#fff" stroke="#000" stroke-width="1.25"/>
<circle cx="245.2" cy="651.0" r="3.3" fill="#fff" stroke="#000" stroke-width="1.25"/>
<circle cx="245.2" cy="609.0" r="3.3" fill="#fff" stroke="#000" stroke-width="1.25"/>
<circle cx="277.0" cy="711.0" r="3.3" fill="#fff" stroke="#000" stroke-width="1.25"/>
<circle cx="277.0" cy="707.0" r="3.3" fill="#fff" stroke="#000" stroke-width="1.25"/>
<circle cx="277.0" cy="705.4" r="3.3" fill="#fff" stroke="#000" stroke-width="1.25"/>
<circle cx="277.0" cy="700.0" r="3.3" fill="#fff" stroke="#000" stroke-width="1.25"/>
<circle cx="277.0" cy="696.0" r="3.3" fill="#fff" stroke="#000" stroke-width="1.25"/>
<circle cx="277.0" cy="689.0" r="3.3" fill="#fff" stroke="#000" stroke-width="1.25"/>
<circle cx="277.0" cy="686.3" r="3.3" fill="#fff" stroke="#000" stroke-width="1.25"/>
<circle cx="277.0" cy="673.7" r="3.3" fill="#fff" stroke="#000" stroke-width="1.25"/>
<circle cx="277.0" cy="662.3" r="3.3" fill="#fff" stroke="#000" stroke-width="1.25"/>
<circle cx="308.3" cy="696.8" r="3.3" fill="#fff" stroke="#000" stroke-width="1.25"/>
<circle cx="308.3" cy="688.5" r="3.3" fill="#fff" stroke="#000" stroke-width="1.25"/>
<circle cx="308.3" cy="687.0" r="3.3" fill="#fff" stroke="#000" stroke-width="1.25"/>
<circle cx="308.3" cy="677.0" r="3.3" fill="#fff" stroke="#000" stroke-width="1.25"/>
<circle cx="308.3" cy="673.7" r="3.3" fill="#fff" stroke="#000" stroke-width="1.25"/>
<circle cx="308.3" cy="642.3" r="3.3" fill="#fff" stroke="#000" stroke-width="1.25"/>
<circle cx="308.3" cy="601.4" r="3.3" fill="#fff" stroke="#000" stroke-width="1.25"/>
<circle cx="308.3" cy="552.5" r="3.3" fill="#fff" stroke="#000" stroke-width="1.25"/>
<circle cx="340.0" cy="706.0" r="3.3" fill="#fff" stroke="#000" stroke-width="1.25"/>
<circle cx="340.0" cy="703.8" r="3.3" fill="#fff" stroke="#000" stroke-width="1.25"/>
<circle cx="340.0" cy="697.7" r="3.3" fill="#fff" stroke="#000" stroke-width="1.25"/>
<circle cx="340.0" cy="693.7" r="3.3" fill="#fff" stroke="#000" stroke-width="1.25"/>
<circle cx="340.0" cy="691.0" r="3.3" fill="#fff" stroke="#000" stroke-width="1.25"/>
<circle cx="340.0" cy="669.4" r="3.3" fill="#fff" stroke="#000" stroke-width="1.25"/>
<circle cx="340.0" cy="663.0" r="3.3" fill="#fff" stroke="#000" stroke-width="1.25"/>
<circle cx="340.0" cy="653.0" r="3.3" fill="#fff" stroke="#000" stroke-width="1.25"/>
<rect x="238.0" y="671.5" width="14.4" height="3.1" fill="#000"/>
<rect x="269.8" y="695.2" width="14.4" height="3.1" fill="#000"/>
<rect x="301.1" y="673.1" width="14.4" height="3.1" fill="#000"/>
<rect x="332.8" y="693.1" width="14.4" height="3.1" fill="#000"/>
<path d="M244.5 593.9V584.3H278.3V593.9" stroke="#000" stroke-width="1.4" fill="none"/>
<text x="244.6" y="580.3" font-size="9.2" fill="#111" textLength="29.2" lengthAdjust="spacingAndGlyphs"><tspan font-style="italic">P</tspan> = .01</text>
<path d="M307.5 542.3V532.4H341.4V542.3" stroke="#000" stroke-width="1.4" fill="none"/>
<text x="308.9" y="527.7" font-size="9.2" fill="#111" textLength="30.0" lengthAdjust="spacingAndGlyphs"><tspan font-style="italic">P</tspan> = .05</text>
<text x="231.7" y="732.5" font-size="12.4" font-weight="bold" textLength="23.7" lengthAdjust="spacingAndGlyphs">Ctrl.</text>
<text x="264.0" y="732.5" font-size="12.4" font-weight="bold" textLength="20.6" lengthAdjust="spacingAndGlyphs">E18</text>
<text x="296.3" y="732.5" font-size="12.4" font-weight="bold" textLength="23.1" lengthAdjust="spacingAndGlyphs">Ctrl.</text>
<text x="328.6" y="732.5" font-size="12.4" font-weight="bold" textLength="21.2" lengthAdjust="spacingAndGlyphs">E18</text>
<path d="M229.2 743.7H289.2M293.8 743.7H353.0" stroke="#000" stroke-width="1.4"/>
<text x="247.5" y="766.6" font-size="12.4" font-weight="bold">CD4<tspan font-size="5.5" dy="-2.6" dx="0.5" fill="#333">+</tspan></text>
<text x="310.8" y="761.2" font-size="12.4" font-weight="bold">CD4<tspan font-size="6.5" dy="-4.6" dx="0.3">+</tspan></text>
<text x="306.6" y="776.4" font-size="12.4" font-weight="bold">CD25<tspan font-size="6.5" dy="-4.6" dx="0.3">-</tspan></text>
<text x="444.6" y="488.0" font-size="12.7" font-weight="bold" textLength="29.6" lengthAdjust="spacingAndGlyphs">Liver</text>
<path d="M385.1 517.4V715.3H520.5M385.1 517.4h-3.2M385.1 583.3h-3.2M385.1 649.2h-3.2M385.1 715.3h-3.2M385.1 715.3v3.4M419.3 715.3v3.4M452.6 715.3v3.4M486.2 715.3v3.4M520.5 715.3v3.4" stroke="#000" stroke-width="1.5" fill="none"/>
<text x="377.7" y="521.3" font-size="11" fill="#111" text-anchor="end">1.5</text>
<text x="377.7" y="587.2" font-size="11" fill="#111" text-anchor="end">1.0</text>
<text x="377.7" y="653.1" font-size="11" fill="#111" text-anchor="end">0.5</text>
<text x="377.7" y="719.2" font-size="11" fill="#111" text-anchor="end">0</text>
<circle cx="402.3" cy="634.0" r="3.3" fill="#fff" stroke="#000" stroke-width="1.25"/>
<circle cx="402.3" cy="632.1" r="3.3" fill="#fff" stroke="#000" stroke-width="1.25"/>
<circle cx="402.3" cy="622.2" r="3.3" fill="#fff" stroke="#000" stroke-width="1.25"/>
<circle cx="402.3" cy="612.5" r="3.3" fill="#fff" stroke="#000" stroke-width="1.25"/>
<circle cx="402.3" cy="605.5" r="3.3" fill="#fff" stroke="#000" stroke-width="1.25"/>
<circle cx="402.3" cy="604.5" r="3.3" fill="#fff" stroke="#000" stroke-width="1.25"/>
<circle cx="402.3" cy="581.1" r="3.3" fill="#fff" stroke="#000" stroke-width="1.25"/>
<circle cx="402.3" cy="556.6" r="3.3" fill="#fff" stroke="#000" stroke-width="1.25"/>
<circle cx="402.3" cy="547.8" r="3.3" fill="#fff" stroke="#000" stroke-width="1.25"/>
<circle cx="402.3" cy="528.8" r="3.3" fill="#fff" stroke="#000" stroke-width="1.25"/>
<circle cx="435.8" cy="697.0" r="3.3" fill="#fff" stroke="#000" stroke-width="1.25"/>
<circle cx="435.8" cy="695.0" r="3.3" fill="#fff" stroke="#000" stroke-width="1.25"/>
<circle cx="435.8" cy="692.8" r="3.3" fill="#fff" stroke="#000" stroke-width="1.25"/>
<circle cx="435.8" cy="689.5" r="3.3" fill="#fff" stroke="#000" stroke-width="1.25"/>
<circle cx="435.8" cy="684.0" r="3.3" fill="#fff" stroke="#000" stroke-width="1.25"/>
<circle cx="435.8" cy="668.3" r="3.3" fill="#fff" stroke="#000" stroke-width="1.25"/>
<circle cx="435.8" cy="624.1" r="3.3" fill="#fff" stroke="#000" stroke-width="1.25"/>
<circle cx="435.8" cy="559.9" r="3.3" fill="#fff" stroke="#000" stroke-width="1.25"/>
<circle cx="435.8" cy="539.3" r="3.3" fill="#fff" stroke="#000" stroke-width="1.25"/>
<circle cx="469.3" cy="624.1" r="3.3" fill="#fff" stroke="#000" stroke-width="1.25"/>
<circle cx="469.3" cy="620.9" r="3.3" fill="#fff" stroke="#000" stroke-width="1.25"/>
<circle cx="469.3" cy="603.0" r="3.3" fill="#fff" stroke="#000" stroke-width="1.25"/>
<circle cx="469.3" cy="601.2" r="3.3" fill="#fff" stroke="#000" stroke-width="1.25"/>
<circle cx="469.3" cy="590.3" r="3.3" fill="#fff" stroke="#000" stroke-width="1.25"/>
<circle cx="469.3" cy="587.0" r="3.3" fill="#fff" stroke="#000" stroke-width="1.25"/>
<circle cx="469.3" cy="582.8" r="3.3" fill="#fff" stroke="#000" stroke-width="1.25"/>
<circle cx="469.3" cy="578.5" r="3.3" fill="#fff" stroke="#000" stroke-width="1.25"/>
<circle cx="469.3" cy="555.0" r="3.3" fill="#fff" stroke="#000" stroke-width="1.25"/>
<circle cx="503.0" cy="670.5" r="3.3" fill="#fff" stroke="#000" stroke-width="1.25"/>
<circle cx="503.0" cy="663.4" r="3.3" fill="#fff" stroke="#000" stroke-width="1.25"/>
<circle cx="503.0" cy="658.5" r="3.3" fill="#fff" stroke="#000" stroke-width="1.25"/>
<circle cx="503.0" cy="647.0" r="3.3" fill="#fff" stroke="#000" stroke-width="1.25"/>
<circle cx="503.0" cy="645.4" r="3.3" fill="#fff" stroke="#000" stroke-width="1.25"/>
<circle cx="503.0" cy="643.7" r="3.3" fill="#fff" stroke="#000" stroke-width="1.25"/>
<circle cx="503.0" cy="592.0" r="3.3" fill="#fff" stroke="#000" stroke-width="1.25"/>
<circle cx="503.0" cy="567.4" r="3.3" fill="#fff" stroke="#000" stroke-width="1.25"/>
<circle cx="503.0" cy="531.1" r="3.3" fill="#fff" stroke="#000" stroke-width="1.25"/>
<rect x="395.1" y="603.0" width="14.4" height="3.1" fill="#000"/>
<rect x="428.6" y="683.8" width="14.4" height="3.1" fill="#000"/>
<rect x="462.1" y="589.5" width="14.4" height="3.1" fill="#000"/>
<rect x="495.8" y="646.5" width="14.4" height="3.1" fill="#000"/>
<path d="M404.0 517.4V507.7H439.0V517.4" stroke="#000" stroke-width="1.4" fill="none"/>
<text x="403.7" y="504.4" font-size="10.3" fill="#111" textLength="36.0" lengthAdjust="spacingAndGlyphs"><tspan font-style="italic">P</tspan> = .005</text>
<path d="M468.7 521.3V510.8H503.0V521.3" stroke="#000" stroke-width="1.4" fill="none"/>
<text x="472.1" y="507.1" font-size="10.3" fill="#111" textLength="29.6" lengthAdjust="spacingAndGlyphs"><tspan font-style="italic">P</tspan> = .04</text>
<text x="392.3" y="731.7" font-size="12.4" font-weight="bold" textLength="23.7" lengthAdjust="spacingAndGlyphs">Ctrl.</text>
<text x="427.0" y="731.7" font-size="12.4" font-weight="bold" textLength="20.7" lengthAdjust="spacingAndGlyphs">E18</text>
<text x="458.5" y="731.7" font-size="12.4" font-weight="bold" textLength="24.0" lengthAdjust="spacingAndGlyphs">Ctrl.</text>
<text x="491.4" y="731.7" font-size="12.4" font-weight="bold" textLength="20.9" lengthAdjust="spacingAndGlyphs">E18</text>
<path d="M389.2 743.0H449.2M453.8 743.0H513.8" stroke="#000" stroke-width="1.4"/>
<text x="407.5" y="765.8" font-size="12.4" font-weight="bold">CD4<tspan font-size="5.5" dy="-2.6" dx="0.5" fill="#333">+</tspan></text>
<text x="471.2" y="759.8" font-size="12.4" font-weight="bold">CD4<tspan font-size="6.5" dy="-4.6" dx="0.3">+</tspan></text>
<text x="467.5" y="775.2" font-size="12.4" font-weight="bold">CD25<tspan font-size="6.5" dy="-4.6" dx="0.3">-</tspan></text>
</svg>
</body></html>
